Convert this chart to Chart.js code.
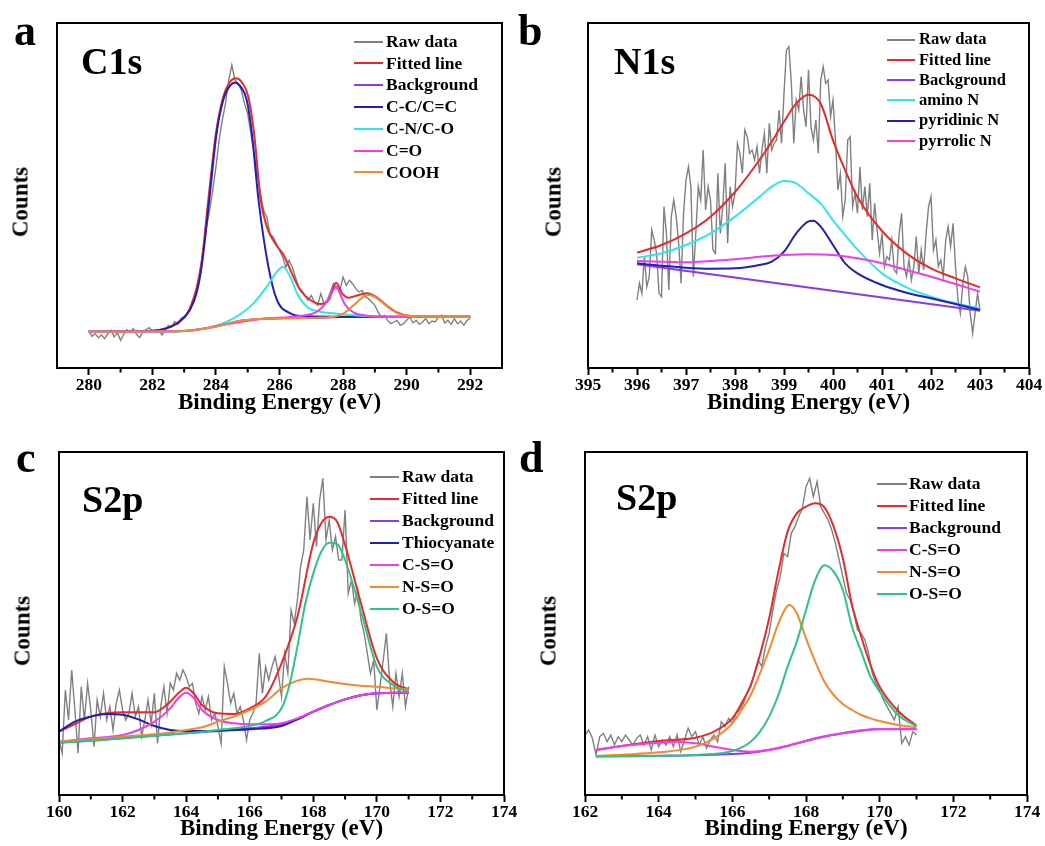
<!DOCTYPE html>
<html><head><meta charset="utf-8">
<script src="https://cdn.jsdelivr.net/npm/chart.js@4.4.0/dist/chart.umd.min.js"></script>
<style>
html,body{margin:0;padding:0;background:#fff;}
body{width:1045px;height:846px;position:relative;overflow:hidden;font-family:'Liberation Serif','Times New Roman',serif;color:#000;}
canvas{position:absolute;}
.t{position:absolute;line-height:1;white-space:nowrap;font-weight:bold;}
.lg{position:absolute;display:flex;align-items:center;line-height:1;white-space:nowrap;font-weight:bold;}
.lg .ln{display:inline-block;height:2px;}
.rot{position:absolute;transform:translate(-50%,-50%) rotate(-90deg);line-height:1;white-space:nowrap;font-weight:bold;font-size:23px;}
</style></head><body>
<script>
// ---------------- DATA ----------------
// Panel a : C1s
const labelsA = ['Raw data','Fitted line','Background','C-C/C=C','C-N/C-O','C=O','COOH'];
const ticksA = [280,282,284,286,288,290,292];
const minorA = [281,283,285,287,289,291];
const rawA_E = [280.0,280.1,280.2,280.3,280.4,280.5,280.6,280.7,280.8,280.9,
281.0,281.1,281.2,281.3,281.4,281.5,281.6,281.7,281.8,281.9,
282.0,282.1,282.2,282.3,282.4,282.5,282.6,282.7,282.8,282.9,
283.0,283.1,283.2,283.3,283.4,283.5,283.6,283.7,283.8,283.9,
284.0,284.1,284.2,284.3,284.4,284.5,284.6,284.7,284.8,284.9,
285.0,285.1,285.2,285.3,285.4,285.5,285.6,285.7,285.8,285.9,
286.0,286.1,286.2,286.3,286.4,286.5,286.6,286.7,286.8,286.9,
287.0,287.1,287.2,287.3,287.4,287.5,287.6,287.7,287.8,287.9,
288.0,288.1,288.2,288.3,288.4,288.5,288.6,288.7,288.8,288.9,
289.0,289.1,289.2,289.3,289.4,289.5,289.6,289.7,289.8,289.9,
290.0,290.1,290.2,290.3,290.4,290.5,290.6,290.7,290.8,290.9,
291.0,291.1,291.2,291.3,291.4,291.5,291.6,291.7,291.8,291.9,
292.0];
const rawA_y = [110,92,100,88,96,85,100,110,90,103,
80,98,112,104,115,98,88,106,112,118,
108,103,112,96,108,125,120,136,128,146,
150,160,175,205,240,290,350,420,470,530,
600,680,740,790,860,906,860,850,830,790,
760,700,640,580,520,470,450,400,390,370,
350,330,300,320,300,270,240,230,215,200,
215,195,185,220,190,200,225,250,235,230,
270,245,260,250,235,225,230,210,205,195,
185,165,150,155,140,130,135,140,125,130,
140,150,132,140,128,135,145,130,138,135,
150,155,132,140,128,145,130,138,125,140,
145];
const fitA_E = [280,282.02,282.86,283.18,283.53,283.76,284.0,284.23,284.42,284.63,284.83,285.02,285.2,285.41,285.6,285.86,286.13,286.39,286.65,286.97,287.28,287.55,287.78,287.97,288.18,288.49,288.76,289.07,289.39,289.71,290.13,290.86,292];
const fitA_y = [106,109,138,176,301,501,701,811,852,866,852,811,701,501,421,371,336,281,231,201,189,201,253,221,208,216,221,208,183,163,153,151,151];
const bgA_E = [280,282.97,283.71,284.34,284.76,285.39,286.13,287.18,288,292];
const bgA_y = [106,108,116,129,139,144,146,148,150,151];
const ccA_E = [280,282.02,282.44,282.86,283.18,283.39,283.55,283.79,284.02,284.23,284.4,284.6,284.8,284.97,285.13,285.34,285.65,285.92,286.34,286.65,287.7,292];
const ccA_y = [106,109,116,136,171,221,301,501,701,801,838,853,838,801,701,501,301,201,161,153,151,151];
const cnA_E = [280,282.44,283.71,284.55,285.18,285.6,285.92,286.11,286.34,286.55,286.86,287.28,287.71,288.23,289.28,292];
const cnA_y = [106,106,116,146,191,241,286,301,271,221,181,166,161,156,151,151];
const coA_E = [280,283,284.3,285.4,286.65,287.18,287.49,287.71,287.78,287.86,288.07,288.34,288.76,289.28,292];
const coA_y = [106,108,128,144,153,166,196,233,243,229,186,163,154,151,151];
const coohA_E = [280,282.97,283.71,284.34,284.76,285.39,286.13,287.18,287.71,288.02,288.34,288.65,288.81,289.07,289.39,289.71,290.13,292];
const coohA_y = [106,108,116,129,139,144,146,148,151,161,186,211,216,206,181,161,153,151];

// Panel b : N1s
const labelsB = ['Raw data','Fitted line','Background','amino N','pyridinic N','pyrrolic N'];
const ticksB = [395,396,397,398,399,400,401,402,403,404];
const minorB = [395.5,396.5,397.5,398.5,399.5,400.5,401.5,402.5,403.5];
const rawB_E = [396,396.05,396.1,396.15,396.2,396.25,396.3,396.35,396.4,396.45,396.5,396.55,396.6,396.65,396.7,396.75,396.8,396.85,396.9,396.95,
397,397.05,397.1,397.15,397.2,397.25,397.3,397.35,397.4,397.45,397.5,397.55,397.6,397.65,397.7,397.75,397.8,397.85,397.9,397.95,
398,398.05,398.1,398.15,398.2,398.25,398.3,398.35,398.4,398.45,398.5,398.55,398.6,398.65,398.7,398.75,398.8,398.85,398.9,398.95,
399,399.05,399.1,399.15,399.2,399.25,399.3,399.35,399.4,399.45,399.5,399.55,399.6,399.65,399.7,399.75,399.8,399.85,399.9,399.95,
400,400.05,400.1,400.15,400.2,400.25,400.3,400.35,400.4,400.45,400.5,400.55,400.6,400.65,400.7,400.75,400.8,400.85,400.9,400.95,
401,401.05,401.1,401.15,401.2,401.25,401.3,401.35,401.4,401.45,401.5,401.55,401.6,401.65,401.7,401.75,401.8,401.85,401.9,401.95,
402,402.05,402.1,402.15,402.2,402.25,402.3,402.35,402.4,402.45,402.5,402.55,402.6,402.65,402.7,402.75,402.8,402.85,402.9,402.95,
403];
const rawB_y = [201,251,221,331,241,271,411,381,341,221,
211,481,401,231,451,501,451,371,251,461,
561,601,541,271,401,541,501,651,471,541,
501,351,341,581,401,481,611,371,541,481,
521,671,641,581,711,691,641,651,621,661,
581,651,701,581,731,651,671,681,771,671,
821,951,961,851,671,801,771,871,771,721,
891,721,681,741,641,861,901,851,861,751,
801,681,531,581,451,501,681,691,481,521,
461,601,471,541,451,551,381,491,411,341,
401,301,331,321,381,291,281,401,461,301,
271,321,261,301,391,281,351,291,401,481,
511,351,381,301,321,271,381,421,361,431,
301,201,161,251,301,271,161,101,161,221,
171];
const fitB_E = [396,396.5,397,397.5,398,398.5,398.75,399,399.25,399.5,399.75,400,400.25,400.5,401,401.5,402,402.5,403];
const fitB_y = [343,366,401,451,525,621,676,736,791,817,790,680,590,510,408,341,296,266,239];
const bgB_E = [396,403];
const bgB_y = [308,169];
const aminoB_E = [396,396.5,397,397.5,398,398.5,398.75,399,399.25,399.5,399.75,400,400.25,400.5,401,401.5,402,402.5,403];
const aminoB_y = [328,341,366,401,451,511,541,558,551,521,490,440,395,352,281,239,211,191,176];
const pyridB_E = [396,396.5,397,397.5,398,398.5,398.75,399,399.25,399.5,399.6,399.75,400,400.25,400.5,401,401.5,402,402.5,403];
const pyridB_y = [311,304,298,295,296,306,316,346,401,437,439,421,366,311,281,246,223,206,189,171];
const pyrrB_E = [396,397,397.5,398,398.5,399,399.5,400,400.5,401,401.5,402,402.5,403];
const pyrrB_y = [318,314,318,323,331,336,338,336,326,311,291,271,249,226];

// Panel c : S2p
const labelsC = ['Raw data','Fitted line','Background','Thiocyanate','C-S=O','N-S=O','O-S=O'];
const ticksC = [160,162,164,166,168,170,172,174];
const minorC = [161,163,165,167,169,171,173];
const rawC_E = [160.0,160.1,160.2,160.3,160.4,160.5,160.6,160.7,160.8,160.9,
161.0,161.1,161.2,161.3,161.4,161.5,161.6,161.7,161.8,161.9,
162.0,162.1,162.2,162.3,162.4,162.5,162.6,162.7,162.8,162.9,
163.0,163.1,163.2,163.3,163.4,163.5,163.6,163.7,163.8,163.9,
164.0,164.1,164.2,164.3,164.4,164.5,164.6,164.7,164.8,164.9,
165.0,165.1,165.2,165.3,165.4,165.5,165.6,165.7,165.8,165.9,
166.0,166.1,166.2,166.3,166.4,166.5,166.6,166.7,166.8,166.9,
167.0,167.1,167.2,167.3,167.4,167.5,167.6,167.7,167.8,167.9,
168.0,168.1,168.2,168.3,168.4,168.5,168.6,168.7,168.8,168.9,
169.0,169.1,169.2,169.3,169.4,169.5,169.6,169.7,169.8,169.9,
170.0,170.1,170.2,170.3,170.4,170.5,170.6,170.7,170.8,170.9,
171.0];
const rawC_y = [165,125,315,225,375,255,125,325,225,335,
255,145,285,235,305,225,265,195,275,315,
255,225,245,305,235,265,175,225,285,215,
305,155,265,325,245,335,315,365,345,375,
355,325,335,275,245,295,255,295,225,245,
205,155,385,335,275,305,245,265,225,165,
225,245,275,425,305,385,345,385,415,365,
295,425,365,555,515,585,685,735,895,765,
875,745,885,950,765,825,735,775,705,705,
855,605,645,575,615,525,485,425,365,405,
255,325,405,485,345,265,365,295,365,265,
325];
const fitC_E = [160,160.5,161,161.5,162,162.5,163,163.5,163.75,164,164.25,164.5,165,165.5,166,166.5,167,167.5,168,168.25,168.5,168.75,169,169.5,170,170.5,171];
const fitC_y = [190,213,235,245,248,248,248,280,305,322,303,270,245,243,260,295,395,535,755,815,835,820,750,575,410,340,317];
const bgC_E = [160,161,162,163,164,165,166,166.5,167,167.5,168,168.5,169,169.5,170,171];
const bgC_y = [157,163,170,178,185,192,200,205,212,228,250,270,287,299,305,307];
const thioC_E = [160,160.5,161,161.5,162,162.5,163,163.5,164,165,166,167,167.5,168,168.5,169,169.5,170,171];
const thioC_y = [190,220,235,243,241,227,207,195,192,193,197,207,227,250,270,287,299,305,307];
const csoC_E = [160,161,162,162.5,163,163.5,163.75,164,164.25,164.5,165,165.5,166,166.5,167,167.5,168,168.5,169,169.5,170,171];
const csoC_y = [160,170,180,195,220,260,290,307,290,255,225,215,212,212,215,230,250,270,287,299,305,307];
const nsoC_E = [160,161,162,163,164,164.5,165,165.5,166,166.5,167,167.5,167.85,168.5,169,169.5,170,170.5,171];
const nsoC_y = [160,167,175,182,195,203,220,235,255,280,320,343,349,340,333,328,325,320,317];
const osoC_E = [160,161,162,163,164,165,166,166.5,167,167.25,167.5,167.75,168,168.25,168.5,168.75,169,169.5,170,170.5,171];
const osoC_y = [157,163,170,178,185,195,207,222,260,330,445,575,665,730,757,753,705,550,385,330,310];

// Panel d : S2p
const labelsD = ['Raw data','Fitted line','Background','C-S=O','N-S=O','O-S=O'];
const ticksD = [162,164,166,168,170,172,174];
const minorD = [163,165,167,169,171,173];
const rawD_E = [162.0,162.1,162.2,162.3,162.4,162.5,162.6,162.7,162.8,162.9,
163.0,163.1,163.2,163.3,163.4,163.5,163.6,163.7,163.8,163.9,
164.0,164.1,164.2,164.3,164.4,164.5,164.6,164.7,164.8,164.9,
165.0,165.1,165.2,165.3,165.4,165.5,165.6,165.7,165.8,165.9,
166.0,166.1,166.2,166.3,166.4,166.5,166.6,166.7,166.8,166.9,
167.0,167.1,167.2,167.3,167.4,167.5,167.6,167.7,167.8,167.9,
168.0,168.1,168.2,168.3,168.4,168.5,168.6,168.7,168.8,168.9,
169.0,169.1,169.2,169.3,169.4,169.5,169.6,169.7,169.8,169.9,
170.0,170.1,170.2,170.3,170.4,170.5,170.6,170.7,170.8,170.9,
171.0];
const rawD_y = [180,195,170,120,175,185,160,180,150,175,
160,180,165,150,170,180,150,175,135,180,
145,165,150,175,145,180,130,165,200,175,
190,150,175,140,165,180,160,220,205,230,
215,245,255,275,305,325,365,405,385,445,
485,555,615,655,725,715,785,805,835,860,
925,950,895,940,865,845,825,795,755,705,
655,605,585,545,495,485,465,425,365,335,
315,285,265,245,225,265,155,175,150,190,
180];
const fitD_E = [162.3,163,164,165,165.5,166,166.25,166.5,166.75,167,167.25,167.5,167.75,168,168.25,168.5,168.75,169,169.25,169.5,169.75,170,170.5,171];
const fitD_y = [135,147,162,172,190,230,275,330,420,530,670,790,845,865,875,863,805,710,570,475,390,325,252,208];
const bgD_E = [162.3,165,166,166.5,167,167.5,168,168.5,169,169.5,170,171];
const bgD_y = [117,119,123,127,135,147,162,175,185,193,197,197];
const csoD_E = [162.3,163,164,164.5,165,165.5,166,166.5,167,167.5,168,168.5,169,169.5,170,171];
const csoD_y = [135,147,157,160,155,145,135,130,136,148,163,176,186,194,198,198];
const nsoD_E = [162.3,163,164,165,165.5,166,166.25,166.5,166.75,167,167.25,167.5,167.55,167.75,168,168.25,168.5,168.75,169,169.25,169.5,169.75,170,170.5,171];
const nsoD_y = [117,121,128,145,170,215,255,300,365,435,515,568,570,545,470,400,340,300,273,255,240,230,222,210,203];
const osoD_E = [162.3,164,165,166,166.5,166.75,167,167.25,167.5,167.75,168,168.25,168.5,168.75,169,169.25,169.5,169.75,170,170.5,171];
const osoD_y = [115,117,120,132,160,190,235,300,385,460,555,645,689,670,615,505,430,355,310,240,207];

// ---------------- STYLE / LAYOUT ----------------
const FONT = 'Liberation Serif';
const C_RAW='#808080', C_FIT='#e52b2b', C_BG='#8a3ae6', C_BLUE='#2020b4', C_CYAN='#30e6ee', C_MAG='#f03cf0', C_ORG='#f28a2e', C_GRN='#2ec488';

const panels = [
  { canvas:[0,0,522,423], area:[57,23,502,368], xr:[279,293], yr:[-3,1032], ticks:ticksA, minor:minorA, titlePad:6,
    letter:['a',14,9], title:['C1s',81,42], counts:[20,202],
    legend:{l:354,r:383,t:386,y0:41.5,dy:21.8,fs:17.5}, labels:labelsA,
    series:[[rawA_E,rawA_y,C_RAW],[fitA_E,fitA_y,C_FIT],[bgA_E,bgA_y,C_BG],[ccA_E,ccA_y,C_BLUE],[cnA_E,cnA_y,C_CYAN],[coA_E,coA_y,C_MAG],[coohA_E,coohA_y,C_ORG]] },
  { canvas:[522,0,523,423], area:[588,23,1029,368], xr:[395,404], yr:[-3,1032], ticks:ticksB, minor:minorB, titlePad:6,
    letter:['b',518,9], title:['N1s',614,42], counts:[553,202],
    legend:{l:887,r:915,t:919,y0:39.5,dy:20.3,fs:16.5}, labels:labelsB,
    series:[[rawB_E,rawB_y,C_RAW],[fitB_E,fitB_y,C_FIT],[bgB_E,bgB_y,C_BG],[aminoB_E,aminoB_y,C_CYAN],[pyridB_E,pyridB_y,C_BLUE],[pyrrB_E,pyrrB_y,C_MAG]] },
  { canvas:[0,423,522,423], area:[59,452,504,795], xr:[160,174], yr:[0,1029], ticks:ticksC, minor:minorC, titlePad:3,
    letter:['c',16,436], title:['S2p',82,480], counts:[22,631],
    legend:{l:370,r:399,t:402,y0:476.5,dy:22.1,fs:17.5}, labels:labelsC,
    series:[[rawC_E,rawC_y,C_RAW],[fitC_E,fitC_y,C_FIT],[bgC_E,bgC_y,C_BG],[thioC_E,thioC_y,C_BLUE],[csoC_E,csoC_y,C_MAG],[nsoC_E,nsoC_y,C_ORG],[osoC_E,osoC_y,C_GRN]] },
  { canvas:[522,423,523,423], area:[585,452,1027,795], xr:[162,174], yr:[0,1029], ticks:ticksD, minor:minorD, titlePad:3,
    letter:['d',519,436], title:['S2p',616,478], counts:[548,631],
    legend:{l:877,r:907,t:909,y0:484,dy:22,fs:17.5}, labels:labelsD,
    series:[[rawD_E,rawD_y,C_RAW],[fitD_E,fitD_y,C_FIT],[bgD_E,bgD_y,C_BG],[csoD_E,csoD_y,C_MAG],[nsoD_E,nsoD_y,C_ORG],[osoD_E,osoD_y,C_GRN]] }
];

const framePlugin = {
  id: 'frame',
  afterDatasetsDraw(chart, args, opts) {
    const {ctx, chartArea: a, scales: {x}} = chart;
    ctx.save();
    ctx.strokeStyle = '#000';
    ctx.lineWidth = 2;
    ctx.strokeRect(a.left, a.top, a.right - a.left, a.bottom - a.top);
    ctx.beginPath();
    (opts.minor || []).forEach(v => {
      const px = x.getPixelForValue(v);
      ctx.moveTo(px, a.bottom);
      ctx.lineTo(px, a.bottom + 4.5);
    });
    ctx.stroke();
    ctx.restore();
  }
};

function addText(txt, cls, left, top, size) {
  const d = document.createElement('div');
  d.className = cls;
  d.textContent = txt;
  d.style.left = left + 'px';
  d.style.top = top + 'px';
  if (size) d.style.fontSize = size + 'px';
  document.body.appendChild(d);
  return d;
}

panels.forEach(p => {
  const [cl, ct, cw, ch] = p.canvas;
  const cv = document.createElement('canvas');
  cv.width = cw; cv.height = ch;
  cv.style.left = cl + 'px'; cv.style.top = ct + 'px';
  cv.style.width = cw + 'px'; cv.style.height = ch + 'px';
  document.body.appendChild(cv);
  const aL = p.area[0] - cl, aT = p.area[1] - ct, aR = p.area[2] - cl, aB = p.area[3] - ct;
  const n = p.series.length;
  const datasets = p.series.map((s, i) => ({
    label: p.labels[i],
    data: s[0].map((e, k) => ({x: e, y: s[1][k]})),
    borderColor: s[2],
    backgroundColor: s[2],
    borderWidth: i === 0 ? 1.4 : 2,
    pointRadius: 0,
    fill: false,
    tension: 0,
    cubicInterpolationMode: i === 0 ? 'default' : 'monotone',
    order: n - i
  }));
  new Chart(cv, {
    type: 'line',
    data: { datasets },
    plugins: [framePlugin],
    options: {
      responsive: false,
      animation: false,
      events: [],
      layout: { padding: { left: aL, top: aT, right: cw - aR, bottom: 0 } },
      plugins: { legend: { display: false }, tooltip: { enabled: false }, frame: { minor: p.minor } },
      scales: {
        x: {
          type: 'linear', position: 'bottom', min: p.xr[0], max: p.xr[1],
          afterBuildTicks: sc => { sc.ticks = p.ticks.map(v => ({ value: v })); },
          afterFit: sc => { sc.height = ch - aB; },
          ticks: { autoSkip: false, maxRotation: 0, minRotation: 0, padding: 0, color: '#000',
                   font: { family: FONT, size: 17.5, weight: 'bold', lineHeight: 1.2 },
                   callback: v => String(v) },
          grid: { display: true, drawOnChartArea: false, drawTicks: true, tickLength: 7, tickWidth: 2, tickColor: '#000', color: '#000' },
          border: { display: false },
          title: { display: true, text: 'Binding Energy (eV)', color: '#000',
                   font: { family: FONT, size: 23, weight: 'bold', lineHeight: 1.2 },
                   padding: { top: 0, bottom: p.titlePad } }
        },
        y: { type: 'linear', display: false, min: p.yr[0], max: p.yr[1] }
      }
    }
  });
  addText(p.letter[0], 't', p.letter[1], p.letter[2], 44);
  addText(p.title[0], 't', p.title[1], p.title[2], 38);
  addText('Counts', 'rot', p.counts[0], p.counts[1]);
  const L = p.legend;
  p.labels.forEach((lab, i) => {
    const row = document.createElement('div');
    row.className = 'lg';
    row.style.left = L.l + 'px';
    row.style.top = (L.y0 + i * L.dy - L.fs / 2) + 'px';
    row.style.height = L.fs + 'px';
    row.style.fontSize = L.fs + 'px';
    const ln = document.createElement('span');
    ln.className = 'ln';
    ln.style.width = (L.r - L.l) + 'px';
    ln.style.background = p.series[i][2];
    const tx = document.createElement('span');
    tx.textContent = lab;
    tx.style.marginLeft = (L.t - L.r) + 'px';
    row.appendChild(ln); row.appendChild(tx);
    document.body.appendChild(row);
  });
});
</script>
</body></html>
